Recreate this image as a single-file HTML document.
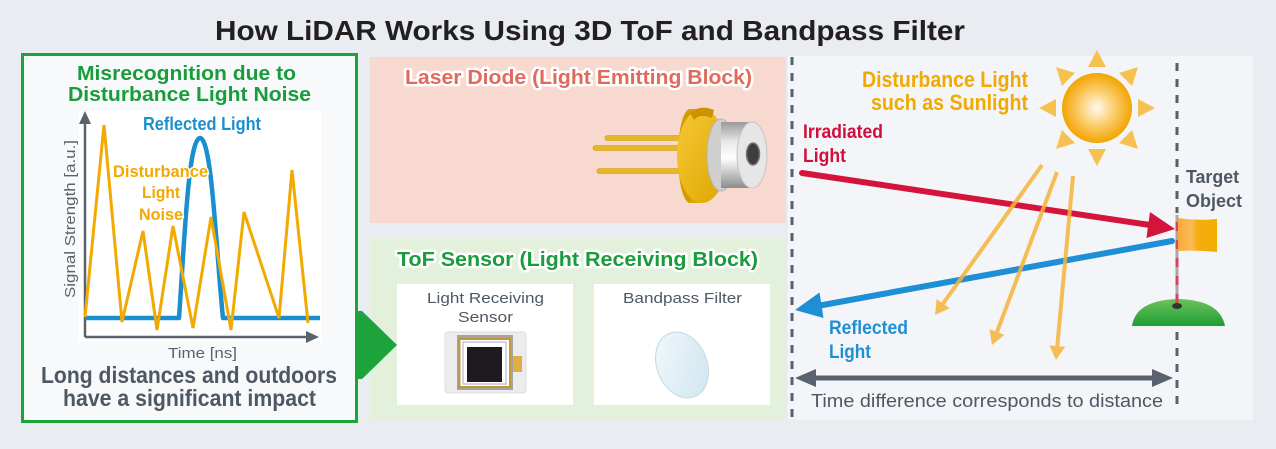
<!DOCTYPE html>
<html><head><meta charset="utf-8">
<style>
html,body{margin:0;padding:0;background:#e9ecf0;}
svg{display:block;}
text{font-family:"Liberation Sans",Arial,sans-serif;}
</style></head>
<body>
<svg width="1276" height="449" viewBox="0 0 1276 449" xmlns="http://www.w3.org/2000/svg">
<defs>
<radialGradient id="sun" cx="0.5" cy="0.5" r="0.5">
<stop offset="0" stop-color="#fffaf0"/>
<stop offset="0.45" stop-color="#fbd27a"/>
<stop offset="1" stop-color="#f3a400"/>
</radialGradient>
<linearGradient id="silver" x1="0" y1="0" x2="0" y2="1">
<stop offset="0" stop-color="#9a9a9a"/>
<stop offset="0.3" stop-color="#e8e8e8"/>
<stop offset="0.55" stop-color="#ffffff"/>
<stop offset="1" stop-color="#8c8c8c"/>
</linearGradient>
<linearGradient id="gold" x1="0" y1="0" x2="1" y2="1">
<stop offset="0" stop-color="#f6c935"/>
<stop offset="1" stop-color="#dca600"/>
</linearGradient>
<linearGradient id="filt" x1="0" y1="0" x2="1" y2="1">
<stop offset="0" stop-color="#f2f9fc"/>
<stop offset="1" stop-color="#cfe4ee"/>
</linearGradient>
<linearGradient id="flag" x1="0" y1="0" x2="1" y2="0">
<stop offset="0" stop-color="#f8a93a"/>
<stop offset="0.35" stop-color="#fbbb55"/>
<stop offset="0.5" stop-color="#f5ae10"/>
<stop offset="1" stop-color="#f3ac00"/>
</linearGradient>
<linearGradient id="hill" x1="0" y1="0" x2="0" y2="1">
<stop offset="0" stop-color="#6cc25a"/>
<stop offset="1" stop-color="#1e9e35"/>
</linearGradient>
</defs>

<rect width="1276" height="449" fill="#e9ecf0"/>

<!-- Title -->
<text x="215" y="40" font-size="28" font-weight="bold" fill="#231f20" textLength="750" lengthAdjust="spacingAndGlyphs">How LiDAR Works Using 3D ToF and Bandpass Filter</text>

<!-- Left box -->
<rect x="22.5" y="54.5" width="334" height="367" fill="#f8f9fb" stroke="#1da33b" stroke-width="3"/>
<text x="77" y="80" font-size="20" font-weight="bold" fill="#1a9c3c" textLength="219" lengthAdjust="spacingAndGlyphs">Misrecognition due to</text>
<text x="68" y="101" font-size="20" font-weight="bold" fill="#1a9c3c" textLength="243" lengthAdjust="spacingAndGlyphs">Disturbance Light Noise</text>
<rect x="79" y="111" width="242" height="230" fill="#ffffff"/>

<!-- axes -->
<line x1="85" y1="337" x2="85" y2="120" stroke="#59636e" stroke-width="2.5"/>
<polygon points="85,111 79,124 91,124" fill="#59636e"/>
<line x1="85" y1="337" x2="308" y2="337" stroke="#59636e" stroke-width="2.5"/>
<polygon points="319,337 306,331 306,343" fill="#59636e"/>

<!-- blue signal -->
<path d="M85 318 L179 318 C184 250 188 138 200 138 C212 138 216 250 223 318 L320 318" fill="none" stroke="#1a8fd0" stroke-width="4.5" stroke-linejoin="round"/>
<!-- orange noise -->
<polyline points="85,317 104,125 122,322 143,231 157,330 173,226 193,328 211,217 231,330 244,212 279,318 292,170 308,323" fill="none" stroke="#f2aa00" stroke-width="3" stroke-linejoin="miter"/>

<text x="143" y="130" font-size="18" font-weight="bold" fill="#1a8fd0" textLength="118" lengthAdjust="spacingAndGlyphs">Reflected Light</text>
<text x="113" y="177" font-size="17" font-weight="bold" fill="#f2a900" stroke="#ffffff" stroke-width="3" paint-order="stroke" textLength="95" lengthAdjust="spacingAndGlyphs">Disturbance</text>
<text x="142" y="198" font-size="17" font-weight="bold" fill="#f2a900" stroke="#ffffff" stroke-width="3" paint-order="stroke" textLength="38" lengthAdjust="spacingAndGlyphs">Light</text>
<text x="139" y="220" font-size="17" font-weight="bold" fill="#f2a900" stroke="#ffffff" stroke-width="3" paint-order="stroke" textLength="44" lengthAdjust="spacingAndGlyphs">Noise</text>

<text transform="translate(75,298) rotate(-90)" x="0" y="0" font-size="15" fill="#59636e" textLength="158" lengthAdjust="spacingAndGlyphs">Signal Strength [a.u.]</text>
<text x="168" y="358" font-size="15" fill="#59636e" textLength="69" lengthAdjust="spacingAndGlyphs">Time [ns]</text>
<text x="41" y="383" font-size="23" font-weight="bold" fill="#4e5864" textLength="296" lengthAdjust="spacingAndGlyphs">Long distances and outdoors</text>
<text x="63" y="406" font-size="23" font-weight="bold" fill="#4e5864" textLength="253" lengthAdjust="spacingAndGlyphs">have a significant impact</text>

<!-- Laser diode box -->
<rect x="370" y="57" width="416" height="166" fill="#f7d9d0"/>
<text x="405" y="84" font-size="20" font-weight="bold" fill="#e06a5c" stroke="#ffffff" stroke-width="5" stroke-linejoin="round" paint-order="stroke" textLength="347" lengthAdjust="spacingAndGlyphs">Laser Diode (Light Emitting Block)</text>

<!-- laser diode drawing -->
<rect x="605" y="135.5" width="80" height="5" rx="2.5" fill="#e9b722" stroke="#c99a10" stroke-width="0.6"/>
<rect x="593" y="145.5" width="92" height="5" rx="2.5" fill="#e9b722" stroke="#c99a10" stroke-width="0.6"/>
<rect x="597" y="168.5" width="88" height="5" rx="2.5" fill="#e9b722" stroke="#c99a10" stroke-width="0.6"/>
<ellipse cx="690" cy="156" rx="12" ry="47" fill="#d29c00"/>
<rect x="690" y="109" width="12" height="94" fill="#d9a400"/>
<ellipse cx="702" cy="156" rx="25" ry="47" fill="url(#gold)"/>
<path d="M690 113 Q700 104 714 110 L712 118 Q700 113 694 120 Z" fill="#c99400"/>
<ellipse cx="721" cy="155" rx="14" ry="36" fill="#cfcfcf" stroke="#b5b5b5" stroke-width="1"/>
<rect x="721" y="122" width="31" height="66" fill="url(#silver)"/>
<ellipse cx="752" cy="155" rx="15" ry="33" fill="#e6e6e6" stroke="#c4c4c4" stroke-width="1"/>
<ellipse cx="753" cy="154" rx="6.5" ry="11" fill="#3e3e3e" stroke="#777" stroke-width="1.5"/>

<!-- ToF box -->
<rect x="370" y="238" width="416" height="182" fill="#e2f0dc"/>
<text x="397" y="266" font-size="20" font-weight="bold" fill="#1a9c3c" stroke="#ffffff" stroke-width="5" stroke-linejoin="round" paint-order="stroke" textLength="361" lengthAdjust="spacingAndGlyphs">ToF Sensor (Light Receiving Block)</text>
<rect x="397" y="284" width="176" height="121" fill="#ffffff"/>
<rect x="594" y="284" width="176" height="121" fill="#ffffff"/>
<text x="427" y="303" font-size="15" fill="#4e5864" textLength="117" lengthAdjust="spacingAndGlyphs">Light Receiving</text>
<text x="458" y="322" font-size="15" fill="#4e5864" textLength="55" lengthAdjust="spacingAndGlyphs">Sensor</text>
<text x="623" y="303" font-size="15" fill="#4e5864" textLength="119" lengthAdjust="spacingAndGlyphs">Bandpass Filter</text>

<!-- sensor icon -->
<rect x="445" y="332" width="81" height="61" rx="3" fill="#ebecec" stroke="#dcdcdc" stroke-width="1"/>
<rect x="457" y="335" width="56" height="55" fill="#a5a4a0"/>
<rect x="459.5" y="339" width="50.5" height="48" fill="#fff" stroke="#c4963a" stroke-width="2"/>
<rect x="463" y="342" width="43" height="42" fill="#fff" stroke="#b8b8c8" stroke-width="1.2"/>
<rect x="467" y="347" width="35" height="35" fill="#1f1a1f"/>
<rect x="513" y="356" width="9" height="16" fill="#e3aa48"/>

<!-- filter -->
<ellipse cx="682" cy="365" rx="25" ry="34" transform="rotate(-22 682 365)" fill="url(#filt)" stroke="#c9dde8" stroke-width="1.2"/>

<!-- green arrow (on top) -->
<polygon points="356,311 362,311 397,345 362,379 356,379" fill="#1da33b"/>

<!-- Right panel -->
<rect x="788" y="56" width="465" height="364" fill="#f3f5f8"/>
<line x1="792" y1="57" x2="792" y2="420" stroke="#56616d" stroke-width="3" stroke-dasharray="8 8"/>
<line x1="1177" y1="63" x2="1177" y2="213" stroke="#56616d" stroke-width="3" stroke-dasharray="8 8"/>
<line x1="1177" y1="332" x2="1177" y2="405" stroke="#56616d" stroke-width="3" stroke-dasharray="8 8"/>

<!-- sun -->
<g fill="#f6c150">
<polygon points="1097,50 1088,67 1106,67"/>
<polygon points="1097,166 1088,149 1106,149"/>
<polygon points="1039,108 1056,99 1056,117"/>
<polygon points="1155,108 1138,99 1138,117"/>
<polygon points="1138,67 1119,73 1132,86"/>
<polygon points="1056,67 1075,73 1062,86"/>
<polygon points="1138,149 1119,143 1132,130"/>
<polygon points="1056,149 1075,143 1062,130"/>
</g>
<circle cx="1097" cy="108" r="35" fill="url(#sun)"/>

<text x="862" y="87" font-size="22" font-weight="bold" fill="#f2a900" textLength="166" lengthAdjust="spacingAndGlyphs">Disturbance Light</text>
<text x="871" y="110" font-size="22" font-weight="bold" fill="#f2a900" textLength="157" lengthAdjust="spacingAndGlyphs">such as Sunlight</text>

<text x="803" y="138" font-size="19" font-weight="bold" fill="#d0103a" textLength="80" lengthAdjust="spacingAndGlyphs">Irradiated</text>
<text x="803" y="162" font-size="19" font-weight="bold" fill="#d0103a" textLength="43" lengthAdjust="spacingAndGlyphs">Light</text>

<!-- red arrow -->
<line x1="802" y1="173" x2="1150" y2="225" stroke="#d4143c" stroke-width="6" stroke-linecap="round"/>
<polygon points="1175,229 1150,212 1146.4,238" fill="#d4143c"/>

<!-- blue arrow -->
<line x1="1172" y1="241" x2="820" y2="305.5" stroke="#1e8fd5" stroke-width="6" stroke-linecap="round"/>
<polygon points="795,310 819.5,292.5 823.5,318" fill="#1e8fd5"/>

<!-- orange rays -->
<g stroke="#f5b43a" stroke-width="4" opacity="0.85" fill="#f5b43a">
<line x1="1042" y1="165" x2="943" y2="303.6"/>
<line x1="1057" y1="172" x2="997" y2="332"/>
<line x1="1073" y1="176" x2="1057.3" y2="346"/>
<polygon points="935,315 949.6,308.2 936.6,299" stroke="none"/>
<polygon points="992,345 1004.4,334.7 989.4,329.1" stroke="none"/>
<polygon points="1056,360 1065.3,346.8 1049.3,345.4" stroke="none"/>
</g>

<text x="829" y="334" font-size="19" font-weight="bold" fill="#1e8fd5" textLength="79" lengthAdjust="spacingAndGlyphs">Reflected</text>
<text x="829" y="358" font-size="19" font-weight="bold" fill="#1e8fd5" textLength="42" lengthAdjust="spacingAndGlyphs">Light</text>

<text x="1186" y="183" font-size="18" font-weight="bold" fill="#4e5864" textLength="53" lengthAdjust="spacingAndGlyphs">Target</text>
<text x="1186" y="207" font-size="18" font-weight="bold" fill="#4e5864" textLength="56" lengthAdjust="spacingAndGlyphs">Object</text>

<!-- flag -->
<path d="M1132 326 Q1136 300 1178 299 Q1220 300 1225 326 Z" fill="url(#hill)"/>
<line x1="1177" y1="215" x2="1177" y2="305" stroke="#a8a8a8" stroke-width="3"/>
<line x1="1177" y1="222" x2="1177" y2="305" stroke="#d0485a" stroke-width="3" stroke-dasharray="9 9"/>
<path d="M1178 218 Q1198 221 1217 219 L1217 252 Q1198 250 1178 251 Z" fill="url(#flag)"/>
<ellipse cx="1177" cy="306" rx="5" ry="3" fill="#333"/>

<!-- distance double arrow -->
<line x1="812" y1="378" x2="1156" y2="378" stroke="#58636f" stroke-width="5"/>
<polygon points="795,378 816,369 816,387" fill="#58636f"/>
<polygon points="1173,378 1152,369 1152,387" fill="#58636f"/>
<text x="811" y="407" font-size="18" fill="#4e5864" textLength="352" lengthAdjust="spacingAndGlyphs">Time difference corresponds to distance</text>
</svg>
</body></html>
